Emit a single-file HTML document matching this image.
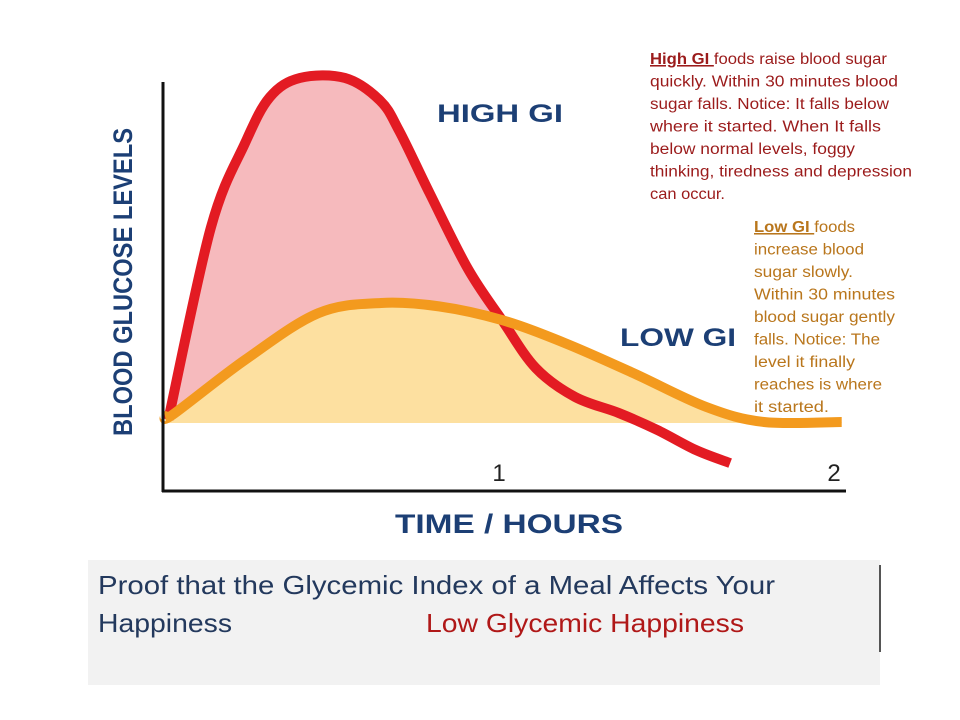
<!DOCTYPE html>
<html><head><meta charset="utf-8"><style>
body{margin:0;background:#fff;width:960px;height:720px;overflow:hidden}
svg{display:block}
text{font-family:"Liberation Sans",sans-serif}
</style></head><body>
<svg id="chart" width="960" height="720" viewBox="0 0 960 720">
<defs><clipPath id="abovebase"><rect x="0" y="0" width="960" height="423"/></clipPath></defs>
<g id="fills"></g>
<g id="lines"></g>
<line x1="163" y1="82" x2="163" y2="492" stroke="#111" stroke-width="3"/>
<line x1="162" y1="491" x2="846" y2="491" stroke="#111" stroke-width="3"/>
<g id="ticks"></g>
<text x="0" y="0" transform="translate(132,282) rotate(-90)" text-anchor="middle" font-size="27" font-weight="bold" fill="#1c3f75" textLength="308" lengthAdjust="spacingAndGlyphs">BLOOD GLUCOSE LEVELS</text>
<text x="509" y="533" text-anchor="middle" font-size="27" font-weight="bold" fill="#1c3f75" textLength="228" lengthAdjust="spacingAndGlyphs">TIME / HOURS</text>
<text x="500" y="122" text-anchor="middle" font-size="25" font-weight="bold" fill="#1c3f75" textLength="126" lengthAdjust="spacingAndGlyphs">HIGH GI</text>
<text x="678" y="346" text-anchor="middle" font-size="25" font-weight="bold" fill="#1c3f75" textLength="116" lengthAdjust="spacingAndGlyphs">LOW GI</text>
<g font-size="15.5" fill="#9b1b1b">
<text x="650" y="64" textLength="237" lengthAdjust="spacingAndGlyphs"><tspan font-weight="bold" text-decoration="underline">High GI </tspan>foods raise blood sugar</text>
<text x="650" y="86.5" textLength="248" lengthAdjust="spacingAndGlyphs">quickly. Within 30 minutes blood</text>
<text x="650" y="109" textLength="239" lengthAdjust="spacingAndGlyphs">sugar falls. Notice: It falls below</text>
<text x="650" y="131.5" textLength="231" lengthAdjust="spacingAndGlyphs">where it started. When It falls</text>
<text x="650" y="154" textLength="205" lengthAdjust="spacingAndGlyphs">below normal levels, foggy</text>
<text x="650" y="176.5" textLength="262" lengthAdjust="spacingAndGlyphs">thinking, tiredness and depression</text>
<text x="650" y="199" textLength="75" lengthAdjust="spacingAndGlyphs">can occur.</text>
</g>
<g font-size="15.5" fill="#b9761c">
<text x="754" y="232" textLength="101" lengthAdjust="spacingAndGlyphs"><tspan font-weight="bold" text-decoration="underline">Low GI </tspan>foods</text>
<text x="754" y="254.5" textLength="110" lengthAdjust="spacingAndGlyphs">increase blood</text>
<text x="754" y="277" textLength="99" lengthAdjust="spacingAndGlyphs">sugar slowly.</text>
<text x="754" y="299.5" textLength="141" lengthAdjust="spacingAndGlyphs">Within 30 minutes</text>
<text x="754" y="322" textLength="141" lengthAdjust="spacingAndGlyphs">blood sugar gently</text>
<text x="754" y="344.5" textLength="126" lengthAdjust="spacingAndGlyphs">falls. Notice: The</text>
<text x="754" y="367" textLength="101" lengthAdjust="spacingAndGlyphs">level it finally</text>
<text x="754" y="389.5" textLength="128" lengthAdjust="spacingAndGlyphs">reaches is where</text>
<text x="754" y="412" textLength="75" lengthAdjust="spacingAndGlyphs">it started.</text>
</g>
<rect x="88" y="560" width="792" height="125" fill="#f2f2f2"/>
<line x1="880" y1="565" x2="880" y2="652" stroke="#555" stroke-width="2"/>
<text x="98" y="594" font-size="26" fill="#23395d" textLength="677" lengthAdjust="spacingAndGlyphs">Proof that the Glycemic Index of a Meal Affects Your</text>
<text x="98" y="632" font-size="26" fill="#23395d" textLength="134" lengthAdjust="spacingAndGlyphs">Happiness</text>
<text x="426" y="632" font-size="26" fill="#b01818" textLength="318" lengthAdjust="spacingAndGlyphs">Low Glycemic Happiness</text>
</svg>
<script>
const highT=[0.01,0.137,0.239,0.313,0.403,0.537,0.642,0.70,0.79,0.904,1.006,1.107,1.224,1.355,1.469,1.585,1.687];
const highV=[1,57,81.6,95,100.6,100.6,94,85,67,45,30,16,7.6,2.9,-2,-7.9,-11.7];
const lowT=[0,0.024,0.239,0.457,0.645,0.818,1.006,1.194,1.397,1.615,1.788,2.02];
const lowV=[2,2.5,18.4,32,35,34,30,23.3,14.6,4.7,0.3,0.3];
const tickVals=[1,2];
const tickLabels=["1","2"];
const xs=t=>165+335*t;
const ys=v=>423-3.43*v;
function pathFrom(T,V){
  const p=T.map((t,i)=>[xs(t),ys(V[i])]);
  let d="M"+p[0][0]+","+p[0][1];
  for(let i=0;i<p.length-1;i++){
    const p0=p[Math.max(0,i-1)],p1=p[i],p2=p[i+1],p3=p[Math.min(p.length-1,i+2)];
    const c1=[p1[0]+(p2[0]-p0[0])/6,p1[1]+(p2[1]-p0[1])/6];
    const c2=[p2[0]-(p3[0]-p1[0])/6,p2[1]-(p3[1]-p1[1])/6];
    d+=" C"+c1[0]+","+c1[1]+" "+c2[0]+","+c2[1]+" "+p2[0]+","+p2[1];
  }
  return d;
}
const NS="http://www.w3.org/2000/svg";
const fills=document.getElementById('fills'),lines=document.getElementById('lines'),ticks=document.getElementById('ticks');
const hp=pathFrom(highT,highV),lp=pathFrom(lowT,lowV);
const pink=document.createElementNS(NS,'path');
pink.setAttribute('d',hp+" L"+xs(highT[highT.length-1])+","+ys(0)+" L"+xs(highT[0])+","+ys(0)+"Z");
pink.setAttribute('fill','#f6babd');
pink.setAttribute('clip-path','url(#abovebase)');


fills.appendChild(pink);
const yel=document.createElementNS(NS,'path');
yel.setAttribute('d',lp+" L"+xs(lowT[lowT.length-1])+","+ys(0)+" L"+xs(lowT[0])+","+ys(0)+"Z");
yel.setAttribute('fill','#fde0a0');


fills.appendChild(yel);
const red=document.createElementNS(NS,'path');
red.setAttribute('d',hp);
red.setAttribute('fill','none');red.setAttribute('stroke','#e31b23');red.setAttribute('stroke-width','10');red.setAttribute('stroke-linejoin','round');


lines.appendChild(red);
const org=document.createElementNS(NS,'path');
org.setAttribute('d',lp);
org.setAttribute('fill','none');org.setAttribute('stroke','#f39a1e');org.setAttribute('stroke-width','10');


lines.appendChild(org);
tickVals.forEach((v,i)=>{
  const t=document.createElementNS(NS,'text');
  t.setAttribute('x',xs(v)-1);t.setAttribute('y',481);t.setAttribute('text-anchor','middle');
  t.setAttribute('font-size','24');t.setAttribute('fill','#222');
  t.textContent=tickLabels[i];
  
  
  ticks.appendChild(t);
});
</script>
</body></html>
